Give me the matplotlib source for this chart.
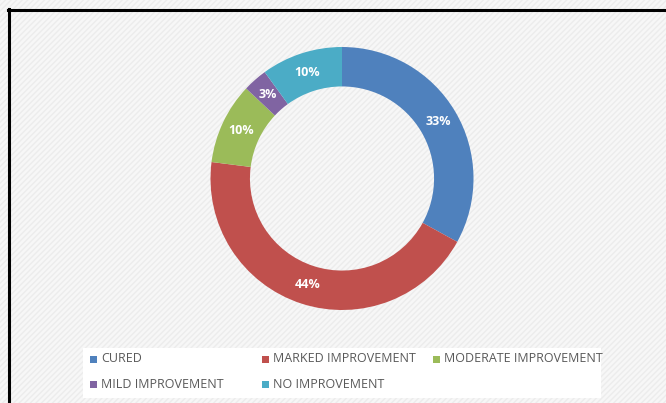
import matplotlib.pyplot as plt
from matplotlib.patches import Rectangle
from matplotlib.lines import Line2D

# Data
categories = ['CURED', 'MARKED IMPROVEMENT', 'MODERATE IMPROVEMENT',
              'MILD IMPROVEMENT', 'NO IMPROVEMENT']
values = [33, 44, 10, 3, 10]
colors = ['#4F81BD', '#C0504D', '#9BBB59', '#8064A2', '#4BACC6']

W, H = 666, 403
fig = plt.figure(figsize=(W / 100, H / 100), dpi=100)
plt.rcParams['font.family'] = ['Open Sans', 'DejaVu Sans']

# hatched light background
bg = Rectangle((0, 0), 1, 1, transform=fig.transFigure, facecolor='#f7f7f7',
               edgecolor='#ececec', hatch='//////', lw=0, zorder=-10)
fig.add_artist(bg)

# black frame on top and left
fig.add_artist(Line2D([8 / W, 1], [1 - 10 / H, 1 - 10 / H], color='black', lw=2.2))
fig.add_artist(Line2D([9 / W, 9 / W], [0, 1 - 9 / H], color='black', lw=2.2))

# donut
cx, cy, R = 342, 178.5, 131.5
ax = fig.add_axes([(cx - R) / W, (H - cy - R) / H, 2 * R / W, 2 * R / H])
wedges, texts, autotexts = ax.pie(
    values, colors=colors, startangle=90, counterclock=False,
    wedgeprops=dict(width=0.3, edgecolor='none'),
    autopct=lambda p: f'{p:.0f}%', pctdistance=0.85,
    textprops=dict(color='white', fontsize=9, fontweight='bold'))
ax.set_xlim(-1, 1)
ax.set_ylim(-1, 1)
ax.set_aspect('auto')
ax.axis('off')

# legend box
fig.add_artist(Rectangle((83 / W, 1 - 398 / H), (601 - 83) / W, (398 - 348) / H,
                         transform=fig.transFigure, facecolor='white',
                         edgecolor='none', zorder=1))

col_x = [90, 262, 433]
row_y = [359, 384]
for i, (name, c) in enumerate(zip(categories, colors)):
    x = col_x[i % 3]
    y = row_y[i // 3]
    fig.add_artist(Rectangle((x / W, 1 - (y + 3.5) / H), 7 / W, 7 / H,
                             transform=fig.transFigure, facecolor=c,
                             edgecolor='none', zorder=2))
    fig.text((x + 11) / W, 1 - y / H, name, fontsize=9, color='#595959',
             va='center', ha='left', zorder=3)

fig.savefig('out.png', dpi=100)
